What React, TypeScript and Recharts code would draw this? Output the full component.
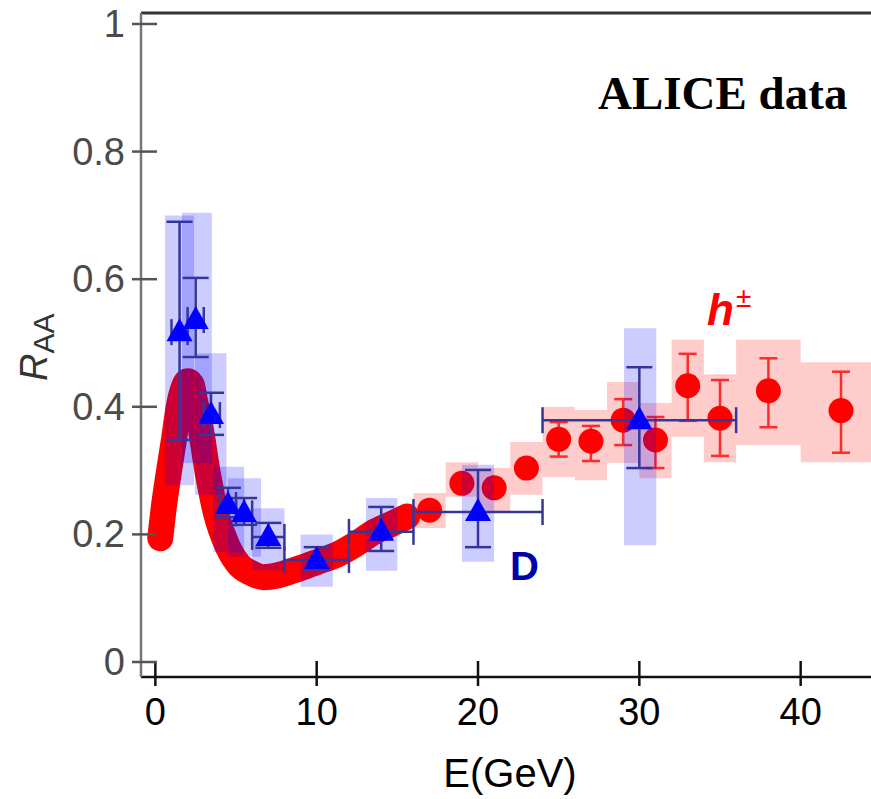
import {
  ComposedChart,
  Line,
  Scatter,
  XAxis,
  YAxis,
  ErrorBar,
  ReferenceArea,
  ReferenceLine,
} from "recharts";

// axis ranges
const X_MIN = -0.89;
const X_MAX = 44.36;
const Y_MIN = -0.0235;
const Y_MAX = 1.0172;

const X_TICKS = [0, 10, 20, 30, 40];
const Y_TICKS = [0, 0.2, 0.4, 0.6, 0.8, 1];
const Y_TICK_LABELS = ["0", "0.2", "0.4", "0.6", "0.8", "1"];

// h± : dense low-E band
const CURVE_E = [0.3, 0.5, 0.85, 1.15, 1.45, 1.75, 2.0, 2.25, 2.45, 2.75, 3.25, 3.75, 4.5, 5.2, 5.9, 6.7, 7.6, 8.5, 9.4, 10.4, 11.4, 12.5, 13.5, 14.6, 15.6];
const CURVE_R = [0.194, 0.238, 0.3, 0.348, 0.4, 0.43, 0.44, 0.435, 0.41, 0.375, 0.296, 0.234, 0.18, 0.152, 0.14, 0.133, 0.136, 0.143, 0.151, 0.16, 0.17, 0.186, 0.203, 0.216, 0.228];

// h± : discrete points
const H_E = [17, 19, 21, 23, 25, 27, 29, 31, 33, 35, 38, 42.5];
const H_R = [0.238, 0.28, 0.273, 0.304, 0.349, 0.346, 0.379, 0.348, 0.433, 0.382, 0.425, 0.394];
const H_LO = [0.228, 0.27, 0.263, 0.294, 0.322, 0.315, 0.34, 0.304, 0.378, 0.323, 0.368, 0.328];
const H_HI = [0.248, 0.29, 0.283, 0.314, 0.376, 0.37, 0.412, 0.384, 0.483, 0.442, 0.476, 0.455];
const H_SYS_X1 = [16, 18, 20, 22, 24, 26, 28, 30, 32, 34, 36, 40];
const H_SYS_X2 = [18, 20, 22, 24, 26, 28, 30, 32, 34, 36, 40, 45];
const H_SYS_LO = [0.21, 0.259, 0.235, 0.262, 0.29, 0.285, 0.312, 0.288, 0.353, 0.313, 0.34, 0.313];
const H_SYS_HI = [0.265, 0.313, 0.304, 0.345, 0.4, 0.395, 0.439, 0.406, 0.505, 0.451, 0.505, 0.47];

// D mesons
const D_E = [1.5, 2.5, 3.45, 4.5, 5.5, 7, 10, 14, 20, 30];
const D_R = [0.517, 0.536, 0.387, 0.246, 0.233, 0.196, 0.16, 0.204, 0.235, 0.379];
const D_LO = [0.348, 0.478, 0.356, 0.227, 0.215, 0.179, 0.145, 0.174, 0.18, 0.304];
const D_HI = [0.69, 0.602, 0.422, 0.273, 0.257, 0.218, 0.18, 0.243, 0.301, 0.462];
const D_XLO = [1, 2, 3, 4, 5, 6, 8, 12, 16, 24];
const D_XHI = [2, 3, 4, 5, 6, 8, 12, 16, 24, 36];
const D_SYS_X1 = [0.6, 1.65, 2.45, 3.6, 4.5, 6, 9, 13.05, 19, 29.05];
const D_SYS_X2 = [2.4, 3.5, 4.4, 5.5, 6.55, 8, 11, 15, 21, 31.05];
const D_SYS_LO = [0.277, 0.312, 0.262, 0.172, 0.165, 0.144, 0.118, 0.143, 0.157, 0.183];
const D_SYS_HI = [0.7, 0.704, 0.484, 0.306, 0.288, 0.241, 0.2, 0.257, 0.309, 0.523];

const curveData = CURVE_E.map((e, i) => ({ e, r: CURVE_R[i] }));
const hData = H_E.map((e, i) => ({
  e,
  r: H_R[i],
  ey: [H_R[i] - H_LO[i], H_HI[i] - H_R[i]],
}));
const dData = D_E.map((e, i) => ({
  e,
  r: D_R[i],
  ey: [D_R[i] - D_LO[i], D_HI[i] - D_R[i]],
  ex: [e - D_XLO[i], D_XHI[i] - e],
}));

const SANS = "'Liberation Sans', Arial, sans-serif";
const W = 871;
const H = 799;
const MARGIN = { top: 13, right: 0, left: 0, bottom: 0 };

function XTick({ x, y, payload }: any) {
  return (
    <g>
      <line x1={x} x2={x} y1={y - 16} y2={y + 9} stroke="#111" strokeWidth={2.5} />
      <text x={x} y={y + 48} textAnchor="middle" fontSize={38} fontFamily={SANS} fill="#000">
        {payload.value}
      </text>
    </g>
  );
}

function YTick({ x, y, payload }: any) {
  const idx = Y_TICKS.indexOf(payload.value);
  return (
    <g>
      <line x1={x - 9} x2={x + 16} y1={y} y2={y} stroke="#555" strokeWidth={2.5} />
      <text x={x - 16} y={y + 13} textAnchor="end" fontSize={38} fontFamily={SANS} fill="#4a4a4a">
        {Y_TICK_LABELS[idx]}
      </text>
    </g>
  );
}

function RedDot({ cx, cy }: any) {
  return <circle cx={cx} cy={cy} r={12.5} fill="#ff0000" />;
}

function BlueTriangle({ cx, cy }: any) {
  return (
    <polygon
      points={`${cx},${cy - 14} ${cx - 13},${cy + 9} ${cx + 13},${cy + 9}`}
      fill="#0000ff"
    />
  );
}

export default function App() {
  return (
    <div style={{ position: "absolute", left: 0, top: 0, width: W, height: H, background: "#fff" }}>
      {/* h± layer with the visible axes */}
      <ComposedChart width={W} height={H} margin={MARGIN}>
        <XAxis
          type="number"
          dataKey="e"
          domain={[X_MIN, X_MAX]}
          ticks={X_TICKS}
          allowDataOverflow
          height={122}
          tickSize={0}
          tickMargin={0}
          tickLine={false}
          tick={<XTick />}
          axisLine={{ stroke: "#111", strokeWidth: 2.5 }}
        />
        <YAxis
          type="number"
          domain={[Y_MIN, Y_MAX]}
          ticks={Y_TICKS}
          allowDataOverflow
          width={141}
          tickSize={0}
          tickMargin={0}
          tickLine={false}
          tick={<YTick />}
          axisLine={{ stroke: "#777", strokeWidth: 2.5 }}
        />
        <ReferenceLine y={Y_MAX} stroke="#333" strokeWidth={3} />

        {H_E.map((e, i) => (
          <ReferenceArea
            key={"hs" + e}
            x1={H_SYS_X1[i]}
            x2={H_SYS_X2[i]}
            y1={H_SYS_LO[i]}
            y2={H_SYS_HI[i]}
            fill="#ff0000"
            fillOpacity={0.2}
            stroke="none"
            ifOverflow="hidden"
          />
        ))}

        <Line
          data={curveData}
          dataKey="r"
          type="monotone"
          stroke="#ff0000"
          strokeWidth={26}
          strokeLinecap="round"
          strokeLinejoin="round"
          dot={false}
          activeDot={false}
          isAnimationActive={false}
        />

        <Scatter data={hData} dataKey="r" shape={<RedDot />} isAnimationActive={false}>
          <ErrorBar dataKey="ey" direction="y" width={9} stroke="#ff2a2a" strokeWidth={2.5} />
        </Scatter>
      </ComposedChart>

      {/* D layer drawn on top, sharing the same domains and frame */}
      <div style={{ position: "absolute", left: 0, top: 0 }}>
        <ComposedChart width={W} height={H} margin={MARGIN}>
          <XAxis
            type="number"
            dataKey="e"
            domain={[X_MIN, X_MAX]}
            ticks={X_TICKS}
            allowDataOverflow
            height={122}
            tick={false}
            tickLine={false}
            axisLine={false}
          />
          <YAxis
            type="number"
            domain={[Y_MIN, Y_MAX]}
            ticks={Y_TICKS}
            allowDataOverflow
            width={141}
            tick={false}
            tickLine={false}
            axisLine={false}
          />
          {D_E.map((e, i) => (
            <ReferenceArea
              key={"ds" + e}
              x1={D_SYS_X1[i]}
              x2={D_SYS_X2[i]}
              y1={D_SYS_LO[i]}
              y2={D_SYS_HI[i]}
              fill="#0000ff"
              fillOpacity={0.2}
              stroke="none"
              ifOverflow="hidden"
            />
          ))}
          <Scatter data={dData} dataKey="r" shape={<BlueTriangle />} isAnimationActive={false}>
            <ErrorBar dataKey="ey" direction="y" width={13} stroke="#36369a" strokeWidth={2.5} />
            <ErrorBar dataKey="ex" direction="x" width={13} stroke="#36369a" strokeWidth={2.5} />
          </Scatter>
        </ComposedChart>
      </div>

      <svg
        width={W}
        height={H}
        style={{ position: "absolute", left: 0, top: 0, pointerEvents: "none" }}
      >
        <text x={598} y={109} fontSize={47} fontWeight="bold" fontFamily="'Liberation Serif', 'Times New Roman', serif" fill="#000">
          ALICE data
        </text>
        <text x={707} y={325} fontFamily={SANS} fill="#ff0000">
          <tspan fontSize={44} fontWeight="bold" fontStyle="italic">h</tspan>
          <tspan fontSize={28} dx={2} dy={-18}>±</tspan>
        </text>
        <text x={510} y={580} fontSize={40} fontWeight="bold" fontFamily={SANS} fill="#0000aa">
          D
        </text>
        <text x={510} y={787} textAnchor="middle" fontSize={40} fontFamily={SANS} fill="#000">
          E(GeV)
        </text>
        <text transform="translate(47, 381) rotate(-90)" fontFamily={SANS} fill="#333">
          <tspan fontSize={38} fontStyle="italic">R</tspan>
          <tspan fontSize={30} dy={7}>AA</tspan>
        </text>
      </svg>
    </div>
  );
}
